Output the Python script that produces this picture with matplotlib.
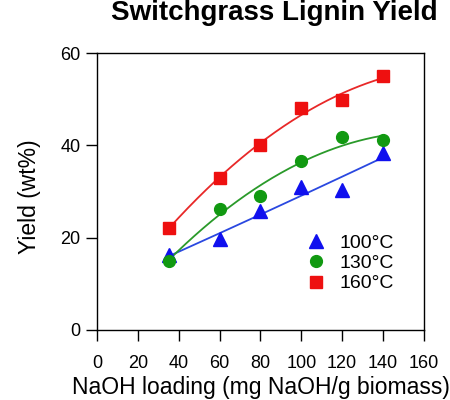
import numpy as np
import matplotlib.pyplot as plt

plt.rcParams['font.family'] = ['Liberation Sans', 'DejaVu Sans']

# NaOH loading (mg NaOH / g biomass)
loading = [35, 60, 80, 100, 120, 140]

# lignin yield (wt%) at each temperature
yield_100 = [16.2, 19.8, 25.8, 31.0, 30.4, 38.4]
yield_130 = [15.0, 26.3, 29.0, 36.6, 41.7, 41.2]
yield_160 = [22.0, 33.0, 40.0, 48.1, 49.9, 55.0]

labels = ['100°C', '130°C', '160°C']
series = [yield_100, yield_130, yield_160]
colors = ['#1010ee', '#119911', '#ee1010']
line_colors = ['#2a48e0', '#2a9a2a', '#e82828']
markers = ['^', 'o', 's']
msizes = [9.5, 8.5, 8.5]

fig = plt.figure(figsize=(4.5, 4), dpi=100)
ax = fig.add_axes([0.2156, 0.175, 0.7264, 0.6925])

x = np.array(loading, dtype=float)
xf = np.linspace(x.min(), x.max(), 200)
for ys, c, lc, m, ms, lab in zip(series, colors, line_colors, markers, msizes, labels):
    # quadratic trend through each series
    p = np.polyfit(x, ys, 2)
    ax.plot(xf, np.polyval(p, xf), color=lc, lw=1.3, zorder=2)
    ax.plot(x, ys, ls='none', marker=m, ms=ms, color=c, mec=c, label=lab, zorder=3)

ax.set_xlim(0, 160)
ax.set_ylim(0, 60)
ax.set_xticks(np.arange(0, 161, 20))
ax.set_yticks([0, 20, 40, 60])
ax.tick_params(direction='out', length=8, width=1, labelsize=13)
ax.tick_params(axis='x', pad=10)
ax.tick_params(axis='y', pad=4)
for sp in ax.spines.values():
    sp.set_linewidth(1)

ax.set_xlabel('NaOH loading (mg NaOH/g biomass)', fontsize=16.5)
ax.xaxis.set_label_coords(0.5, -0.165)
ax.set_ylabel('Yield (wt%)', fontsize=16.5)
ax.yaxis.set_label_coords(-0.172, 0.48)
fig.text(0.609, 0.95, 'Switchgrass Lignin Yield', fontsize=20, fontweight='bold',
         ha='center', va='baseline')

ax.legend(loc='upper left', bbox_to_anchor=(0.64, 0.345), frameon=False,
          fontsize=14, handletextpad=0.7, labelspacing=0.13, handlelength=1.0,
          borderpad=0, borderaxespad=0)

fig.savefig('out.png', dpi=100)
